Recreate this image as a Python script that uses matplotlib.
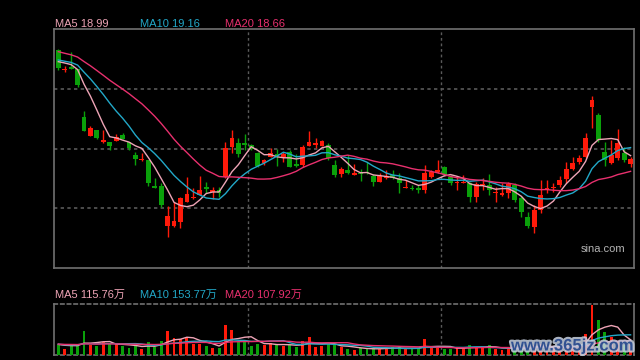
import numpy as np
import pandas as pd
import matplotlib
matplotlib.use('Agg')
import matplotlib.pyplot as plt
import matplotlib.patheffects as pe

plt.rcParams['font.family'] = ['Liberation Sans', 'Noto Sans CJK SC', 'DejaVu Sans']

# 日K数据 (开, 高, 低, 收)
open_ = [21.21, 20.78, 20.85, 20.81, 19.80, 19.40, 19.53, 19.28, 19.28, 19.30,
         19.43, 19.28, 19.01, 18.89, 18.90, 18.36, 18.36, 17.51, 17.51, 17.60,
         18.02, 18.09, 18.16, 18.33, 18.23, 18.27, 18.55, 19.18, 19.25, 19.25,
         19.21, 19.04, 18.83, 18.96, 19.02, 18.97, 19.06, 18.81, 18.80, 19.19,
         19.21, 19.19, 19.22, 18.80, 18.61, 18.69, 18.58, 18.62, 18.65, 18.57,
         18.44, 18.51, 18.59, 18.52, 18.31, 18.32, 18.32, 18.26, 18.54, 18.65,
         18.76, 18.54, 18.42, 18.41, 18.41, 18.12, 18.37, 18.38, 18.20, 18.17,
         18.21, 18.38, 18.10, 17.71, 17.50, 17.85, 18.28, 18.30, 18.38, 18.49,
         18.70, 18.86, 18.97, 20.01, 19.85, 19.07, 18.84, 18.94, 19.05, 18.82]
high = [21.23, 20.87, 21.17, 20.81, 19.93, 19.61, 19.53, 19.53, 19.28, 19.45,
        19.47, 19.28, 19.07, 19.05, 18.90, 18.52, 18.42, 17.93, 18.02, 18.12,
        18.54, 18.31, 18.56, 18.44, 18.34, 18.34, 19.28, 19.53, 19.36, 19.45,
        19.24, 19.07, 18.92, 19.15, 19.12, 19.06, 19.11, 19.02, 19.22, 19.51,
        19.36, 19.32, 19.26, 18.90, 18.76, 19.01, 18.82, 18.71, 18.86, 18.61,
        18.62, 18.68, 18.69, 18.63, 18.48, 18.38, 18.38, 18.80, 18.69, 18.90,
        18.77, 18.59, 18.55, 18.59, 18.44, 18.44, 18.52, 18.61, 18.34, 18.42,
        18.44, 18.42, 18.14, 17.81, 17.96, 18.47, 18.47, 18.41, 18.56, 18.86,
        18.97, 19.01, 19.46, 20.24, 19.88, 19.28, 19.32, 19.54, 19.18, 18.97]
low = [20.79, 20.75, 20.80, 20.43, 19.51, 19.40, 19.34, 19.26, 19.11, 19.30,
       19.34, 19.11, 18.80, 18.88, 18.35, 18.31, 17.92, 17.29, 17.49, 17.47,
       18.02, 18.07, 18.16, 18.20, 18.07, 18.13, 18.52, 19.05, 18.97, 19.11,
       19.11, 18.76, 18.80, 18.96, 18.77, 18.86, 18.75, 18.76, 18.76, 19.19,
       19.15, 19.19, 18.90, 18.54, 18.55, 18.61, 18.58, 18.46, 18.60, 18.36,
       18.44, 18.50, 18.50, 18.21, 18.31, 18.27, 18.20, 18.20, 18.52, 18.63,
       18.56, 18.38, 18.27, 18.41, 18.01, 18.02, 18.27, 18.17, 18.02, 18.14,
       18.10, 18.02, 17.71, 17.47, 17.37, 17.78, 18.21, 18.23, 18.34, 18.42,
       18.69, 18.82, 18.94, 19.57, 19.28, 18.77, 18.82, 18.90, 18.86, 18.76]
close = [20.83, 20.82, 20.81, 20.48, 19.51, 19.57, 19.36, 19.31, 19.19, 19.38,
         19.34, 19.15, 18.92, 18.92, 18.42, 18.32, 17.96, 17.72, 17.62, 18.10,
         18.19, 18.12, 18.27, 18.29, 18.26, 18.20, 19.15, 19.36, 19.03, 19.22,
         19.13, 18.77, 18.90, 19.04, 18.99, 19.03, 18.76, 18.78, 19.17, 19.28,
         19.25, 19.29, 18.94, 18.59, 18.70, 18.63, 18.63, 18.60, 18.62, 18.44,
         18.56, 18.54, 18.52, 18.41, 18.34, 18.29, 18.27, 18.62, 18.65, 18.69,
         18.59, 18.41, 18.44, 18.43, 18.13, 18.40, 18.40, 18.26, 18.23, 18.20,
         18.40, 18.05, 17.81, 17.51, 17.85, 18.17, 18.32, 18.33, 18.47, 18.71,
         18.84, 18.95, 19.37, 20.16, 19.32, 18.89, 19.01, 19.25, 18.89, 18.91]
# 成交量 (万)
volume = [76, 45.6, 70.7, 76, 182.4, 76, 68.4, 101, 83.6, 83.6,
          68.4, 50.9, 76, 45.6, 98.8, 63, 106.4, 182.4, 127, 121.6,
          139, 83.6, 83.6, 68.4, 55.5, 50.9, 228, 190, 101, 106.4,
          68.4, 83.6, 76, 93.5, 76, 68.4, 76, 58.5, 106.4, 139,
          58.5, 68.4, 83.6, 76, 63, 45.6, 38, 50.9, 50.9, 50.9,
          45.6, 50.9, 58.5, 58.5, 45.6, 45.6, 50.9, 121.6, 55.5, 55.5,
          45.6, 45.6, 55.5, 55.5, 76, 55.5, 55.5, 76, 45.6, 38,
          45.6, 45.6, 60.8, 60.8, 76, 83.6, 53.2, 53.2, 60.8, 79.8,
          76, 76, 159.6, 380, 266, 177, 139, 98.8, 76, 86.6]
# 图中窗口之前的19个交易日 (用于均线起点)
prev_close = [21.50, 21.46, 21.42, 21.40, 21.36, 21.34, 21.32, 21.27, 21.23, 21.19,
              21.08, 21.06, 21.04, 21.00, 20.99, 20.96, 20.98, 21.00, 21.05]
prev_volume = [85, 78, 92, 70, 88, 95, 74, 82, 90, 76,
               84, 80, 72, 96, 86, 79, 83, 77, 88]

RED = '#ff1a0a'
GREEN = '#0aa00a'
C_MA5 = '#eea4b6'
C_MA10 = '#22a8c8'
C_MA20 = '#e8306e'
GRID = '#5a5a5a'
BORDER = '#707070'

n = len(close)
x = np.arange(n)
o = np.array(open_); h = np.array(high); l = np.array(low); c = np.array(close)
up = c >= o
colors = np.where(up, RED, GREEN)

all_close = pd.Series(prev_close + close)
all_vol = pd.Series(prev_volume + volume)
ma = {k: all_close.rolling(k).mean().values[-n:] for k in (5, 10, 20)}
vma = {k: all_vol.rolling(k).mean().values[-n:] for k in (5, 10, 20)}

fig = plt.figure(figsize=(6.4, 3.6), dpi=100, facecolor='black')
ax = fig.add_axes([54 / 640, 1 - 268 / 360, 580 / 640, 239 / 360], facecolor='black')
axv = fig.add_axes([54 / 640, 1 - 355 / 360, 580 / 640, 51 / 360], facecolor='black')

# K线
ax.vlines(x, l, h, colors=colors, linewidth=1, zorder=3)
body_bottom = np.minimum(o, c)
body_h = np.maximum(np.abs(c - o), 0.025)
ax.bar(x, body_h, bottom=body_bottom, width=0.75, color=colors, linewidth=0, zorder=4)

ax.plot(x, ma[5], color=C_MA5, lw=1.0, zorder=5)
ax.plot(x, ma[10], color=C_MA10, lw=1.0, zorder=5)
ax.plot(x, ma[20], color=C_MA20, lw=1.0, zorder=5)

ax.set_xlim(-0.67, n - 0.47)
ax.set_ylim(16.63, 21.65)
lo, hi = ax.get_ylim()
for k in (1, 2, 3):
    ax.axhline(lo + (hi - lo) * k / 4, color=GRID, lw=1.2, ls=(0, (2, 2)), zorder=1)
for xv in (29.5, 59.5):
    ax.axvline(xv, color=GRID, lw=1.0, ls=(0, (2, 2)), zorder=1)
ax.set_xticks([]); ax.set_yticks([])
for s in ax.spines.values():
    s.set_color(BORDER); s.set_linewidth(1.2)

ax.text(0.985, 0.08, 'sina.com', transform=ax.transAxes, ha='right', va='center',
        color='#b4b4b4', fontsize=8)

# 成交量
axv.bar(x, volume, width=0.45, color=colors, linewidth=0, zorder=3)
axv.plot(x, vma[5], color=C_MA5, lw=1.0, zorder=4)
axv.plot(x, vma[10], color=C_MA10, lw=1.0, zorder=4)
axv.plot(x, vma[20], color=C_MA20, lw=1.0, zorder=4)
axv.set_xlim(ax.get_xlim())
axv.set_ylim(0, 388)
for xv in (29.5, 59.5):
    axv.axvline(xv, color=GRID, lw=1.0, ls=(0, (2, 2)), zorder=1)
axv.set_xticks([]); axv.set_yticks([])
for name, s in axv.spines.items():
    s.set_color(BORDER); s.set_linewidth(1.2)
    if name in ('top', 'bottom'):
        s.set_linestyle((0, (2, 2)))

# 图例文字
fig.text(55 / 640, 1 - 24 / 360, f'MA5 {ma[5][-1]:.2f}', color=C_MA5, fontsize=8, va='center')
fig.text(140 / 640, 1 - 24 / 360, f'MA10 {ma[10][-1]:.2f}', color=C_MA10, fontsize=8, va='center')
fig.text(225 / 640, 1 - 24 / 360, f'MA20 {ma[20][-1]:.2f}', color=C_MA20, fontsize=8, va='center')
fig.text(55 / 640, 1 - 295 / 360, 'MA5 115.76万', color=C_MA5, fontsize=8, va='center')
fig.text(140 / 640, 1 - 295 / 360, 'MA10 153.77万', color=C_MA10, fontsize=8, va='center')
fig.text(225 / 640, 1 - 295 / 360, 'MA20 107.92万', color=C_MA20, fontsize=8, va='center')

# 水印
fig.text(633 / 640, 1 - 346 / 360, 'www.365jz.com', color='#1c3f86', fontsize=12,
         fontweight='bold', ha='right', va='center', alpha=0.85,
         path_effects=[pe.withStroke(linewidth=3, foreground='#c9d2e2')])

fig.savefig('out.png', dpi=100, facecolor='black')
